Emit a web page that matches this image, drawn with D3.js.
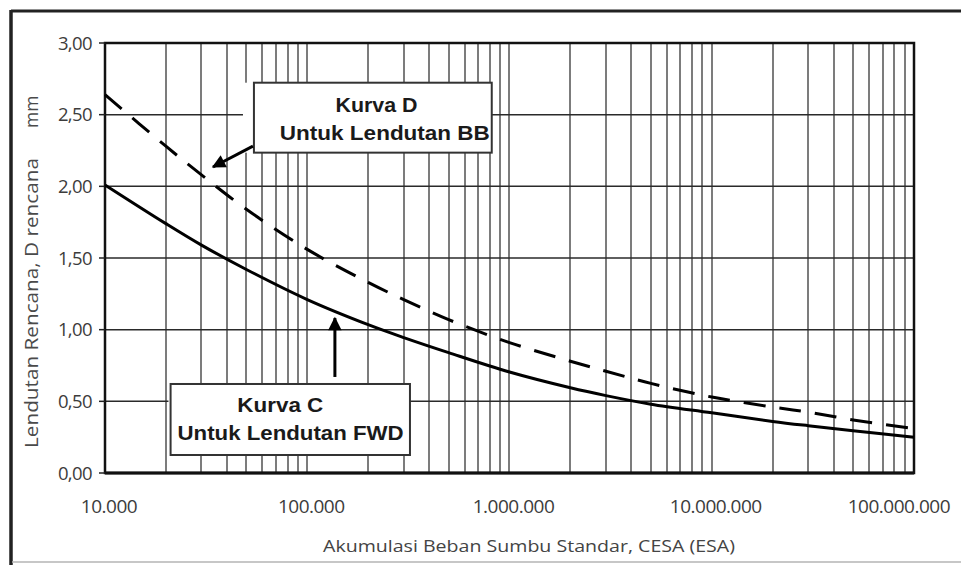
<!DOCTYPE html>
<html><head><meta charset="utf-8">
<script src="https://cdn.jsdelivr.net/npm/d3@7"></script>
<style>html,body{margin:0;padding:0;background:#fff}svg{display:block}</style>
</head><body>
<svg id="c" width="961" height="565"></svg>
<script>
// ---- data ----
const esa = [1e4, 2e4, 3e4, 5e4, 1e5, 2e5, 3e5, 5e5, 1e6, 2e6, 3e6, 5e6, 1e7, 2e7, 3e7, 5e7, 1e8];
const kurvaC = [2.01, 1.74, 1.59, 1.42, 1.21, 1.035, 0.945, 0.84, 0.705, 0.595, 0.54, 0.48, 0.42, 0.36, 0.33, 0.295, 0.25];
const kurvaD = [2.64, 2.28, 2.08, 1.84, 1.56, 1.33, 1.21, 1.07, 0.91, 0.78, 0.71, 0.625, 0.53, 0.46, 0.425, 0.37, 0.31];
const xTickValues = [1e4, 1e5, 1e6, 1e7, 1e8];
const xTickLabels = ["10.000", "100.000", "1.000.000", "10.000.000", "100.000.000"];
const yTickValues = [0, 0.5, 1, 1.5, 2, 2.5, 3];
const yTickLabels = ["0,00", "0,50", "1,00", "1,50", "2,00", "2,50", "3,00"];
const xTitle = "Akumulasi Beban Sumbu Standar, CESA (ESA)";
const yTitle = "Lendutan Rencana, D rencana";
const yUnit = "mm";
const labelD = ["Kurva D", "Untuk Lendutan BB"];
const labelC = ["Kurva C", "Untuk Lendutan FWD"];

// ---- layout ----
const svg = d3.select("#c");
const L = 105, R = 914, T = 43, B = 473;
const x = d3.scaleLog().domain([1e4, 1e8]).range([L, R]);
const y = d3.scaleLinear().domain([0, 3]).range([B, T]);
const tickFont = "'Open Sans', 'Noto Sans', sans-serif";

svg.append("rect").attr("width", 961).attr("height", 565).attr("fill", "#fff");

// outer frame
svg.append("line").attr("x1", 11).attr("x2", 961).attr("y1", 11).attr("y2", 11).attr("stroke", "#222").attr("stroke-width", 3);
svg.append("line").attr("x1", 11).attr("x2", 11).attr("y1", 10).attr("y2", 565).attr("stroke", "#222").attr("stroke-width", 3.5);
svg.append("line").attr("x1", 12).attr("x2", 961).attr("y1", 562).attr("y2", 562).attr("stroke", "#b5b5b5").attr("stroke-width", 1.5);

// vertical grid (log minor lines)
const vgrid = [];
for (let dec = 1e4; dec < 1e8; dec *= 10) for (let m = 1; m <= 9; m++) { const v = dec * m; if (v > 1e4) vgrid.push(v); }
svg.append("g").selectAll("line").data(vgrid).join("line")
  .attr("x1", d => Math.round(x(d))).attr("x2", d => Math.round(x(d))).attr("y1", T).attr("y2", B)
  .attr("stroke", "#7c7c7c").attr("stroke-width", 2);

// horizontal grid
svg.append("g").selectAll("line").data(yTickValues.slice(1, -1)).join("line")
  .attr("x1", L).attr("x2", R).attr("y1", d => y(d)).attr("y2", d => y(d))
  .attr("stroke", "#2a2a2a").attr("stroke-width", 1.5);

// plot frame
svg.append("rect").attr("x", L).attr("y", T).attr("width", R - L).attr("height", B - T)
  .attr("fill", "none").attr("stroke", "#111").attr("stroke-width", 2.5);
svg.append("line").attr("x1", L).attr("x2", R).attr("y1", B).attr("y2", B).attr("stroke", "#111").attr("stroke-width", 3);

// y ticks
svg.append("g").selectAll("line").data(yTickValues).join("line")
  .attr("x1", L - 6).attr("x2", L).attr("y1", d => y(d)).attr("y2", d => y(d))
  .attr("stroke", "#222").attr("stroke-width", 1.5);
svg.append("g").selectAll("text").data(yTickValues).join("text")
  .attr("x", 92).attr("y", d => y(d)).attr("dy", "0.36em").attr("text-anchor", "end")
  .attr("font-family", tickFont).attr("font-size", 18.5).attr("letter-spacing", -0.6).attr("fill", "#3c3c3c")
  .text((d, i) => yTickLabels[i]);

// x tick labels
svg.append("g").selectAll("text").data(xTickValues).join("text")
  .attr("x", (d, i) => i === xTickValues.length - 1 ? 950 : x(d) + 4)
  .attr("y", 513)
  .attr("text-anchor", (d, i) => i === xTickValues.length - 1 ? "end" : "middle")
  .attr("font-family", tickFont).attr("font-size", 19).attr("letter-spacing", -0.5).attr("fill", "#3c3c3c")
  .text((d, i) => xTickLabels[i]);

// axis titles
svg.append("text").attr("x", 529).attr("y", 552).attr("text-anchor", "middle")
  .attr("font-family", tickFont).attr("font-size", 17).attr("fill", "#444")
  .attr("textLength", 412).attr("lengthAdjust", "spacingAndGlyphs").text(xTitle);
svg.append("text").attr("transform", "translate(38,448) rotate(-90)").attr("text-anchor", "start")
  .attr("font-family", tickFont).attr("font-size", 17.5).attr("fill", "#4a4a4a")
  .attr("textLength", 290).attr("lengthAdjust", "spacingAndGlyphs").text(yTitle);
svg.append("text").attr("transform", "translate(38,128) rotate(-90)").attr("text-anchor", "start")
  .attr("font-family", tickFont).attr("font-size", 17.5).attr("fill", "#4a4a4a").text(yUnit);

// curves
const line = d3.line().x((d, i) => x(esa[i])).y(d => y(d)).curve(d3.curveCatmullRom.alpha(0.5));
svg.append("path").attr("d", line(kurvaC)).attr("fill", "none").attr("stroke", "#000").attr("stroke-width", 3);
svg.append("path").attr("d", line(kurvaD)).attr("fill", "none").attr("stroke", "#000").attr("stroke-width", 3)
  .attr("stroke-dasharray", "22,14");

// annotation boxes (data-space anchors)
function box(maskX0, x0, x1, y0, y1) {
  svg.append("rect").attr("x", x(maskX0)).attr("y", y(y1)).attr("width", x(x1) - x(maskX0)).attr("height", y(y0) - y(y1)).attr("fill", "#fff");
  svg.append("rect").attr("x", x(x0)).attr("y", y(y1)).attr("width", x(x1) - x(x0)).attr("height", y(y0) - y(y1))
    .attr("fill", "#fff").attr("stroke", "#333").attr("stroke-width", 2);
}
box(48100, 54500, 817000, 2.235, 2.723);
box(20600, 21100, 322000, 0.1256, 0.621);

const boldFont = "'Liberation Sans', Arial, sans-serif";
function label(cx, by, txt, w) {
  svg.append("text").attr("x", cx).attr("y", by).attr("text-anchor", "middle")
    .attr("font-family", boldFont).attr("font-weight", "bold").attr("font-size", 20).attr("fill", "#1a1a1a")
    .attr("textLength", w).attr("lengthAdjust", "spacingAndGlyphs").text(txt);
}
label(x(220000), y(2.52), labelD[0], 82);
label(x(242000), y(2.323), labelD[1], 210);
label(x(73600), y(0.428), labelC[0], 86);
label(x(82700), y(0.230), labelC[1], 226);

// arrows
svg.append("defs").append("marker").attr("id", "ah").attr("viewBox", "0 0 10 10").attr("refX", 9).attr("refY", 5)
  .attr("markerWidth", 5).attr("markerHeight", 4.5).attr("markerUnits", "strokeWidth").attr("orient", "auto")
  .append("path").attr("d", "M0,0 L10,5 L0,10 z").attr("fill", "#000");
function arrow(v0, d0, v1, d1) {
  svg.append("line").attr("x1", x(v0)).attr("y1", y(d0)).attr("x2", x(v1)).attr("y2", y(d1))
    .attr("stroke", "#000").attr("stroke-width", 3).attr("marker-end", "url(#ah)");
}
arrow(53900, 2.281, 34200, 2.135);
arrow(137000, 0.67, 137000, 1.081);
</script>
</body></html>
